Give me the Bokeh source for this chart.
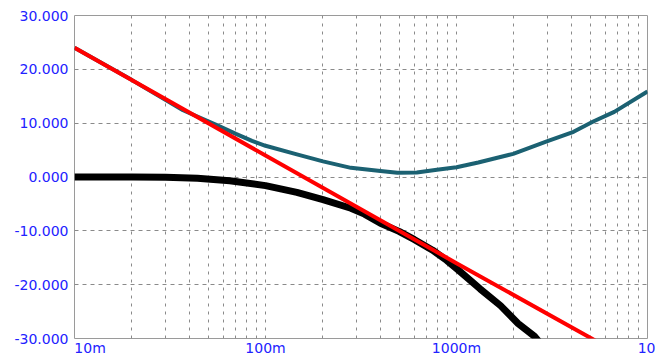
import numpy as np
from bokeh.plotting import figure
from bokeh.models import Range1d, FixedTicker, PrintfTickFormatter
from bokeh.embed import file_html
from bokeh.resources import INLINE

# ---- data ----
red_x = [0.01, 0.1, 1.0, 5.1, 10.0]
red_y = [24.0, 4.0, -16.0, -30.0, -36.0]

black_x = [0.01, 0.02, 0.03, 0.044, 0.065, 0.1, 0.146, 0.2, 0.28, 0.33, 0.4, 0.5, 0.6,
           0.75, 0.89, 1.0, 1.33, 1.7, 2.1, 2.56, 3.0]
black_y = [0.0, 0.0, -0.05, -0.25, -0.7, -1.6, -2.85, -4.2, -5.8, -6.9, -8.6, -10.1, -11.6,
           -13.6, -15.5, -17.0, -20.8, -23.9, -27.2, -29.6, -32.5]

teal_x = [0.01, 0.02, 0.029, 0.037, 0.056, 0.07, 0.085, 0.1, 0.146, 0.2, 0.28, 0.4, 0.49,
          0.62, 0.79, 1.0, 1.3, 1.98, 2.97, 4.1, 5.2, 6.7, 9.9, 10.0]
teal_y = [24.0, 18.0, 14.6, 12.4, 9.6, 8.0, 6.7, 5.8, 4.2, 2.9, 1.7, 1.1, 0.8,
          0.85, 1.35, 1.8, 2.7, 4.3, 6.6, 8.4, 10.3, 12.1, 15.8, 15.9]

y_ticks = [-30, -20, -10, 0, 10, 20, 30]
x_ticks = [0.01, 0.1, 1.0, 10.0]
x_tick_labels = ["10m", "100m", "1000m", "10"]

LABEL_FONT = "DejaVu Sans"
LABEL_COLOR = "#2222ff"
GRID_COLOR = "#8a8a8a"

p = figure(width=655, height=358, x_axis_type="log",
           x_range=Range1d(0.01, 10), y_range=Range1d(-30, 30),
           output_backend="svg", toolbar_location=None,
           min_border_left=74, min_border_right=8, min_border_top=15, min_border_bottom=19)
p.background_fill_color = "white"
p.border_fill_color = "white"
p.outline_line_color = "#9a9a9a"
p.outline_line_width = 1

# y axis
p.yaxis.ticker = FixedTicker(ticks=y_ticks)
p.yaxis.formatter = PrintfTickFormatter(format="%.3f")
p.yaxis.major_label_text_font = LABEL_FONT
p.yaxis.major_label_text_font_size = "14px"
p.yaxis.major_label_text_color = LABEL_COLOR
p.yaxis.major_tick_out = 0
p.yaxis.major_tick_in = 0
p.yaxis.minor_tick_out = 0
p.yaxis.minor_tick_in = 0
p.yaxis.major_label_standoff = 6
p.yaxis.axis_line_color = None

# x axis (log)
xaxis = p.xaxis[0]
xaxis.ticker = FixedTicker(ticks=x_ticks)
overrides = {}
for i, (t, lab) in enumerate(zip(x_ticks, x_tick_labels)):
    # first label sits to the right of its tick, as in the reference
    overrides[t] = ("\u00a0" * 7 + lab) if i == 0 else lab
xaxis.major_label_overrides = overrides
xaxis.major_label_text_font = LABEL_FONT
xaxis.major_label_text_font_size = "14px"
xaxis.major_label_text_color = LABEL_COLOR
xaxis.major_tick_out = 0
xaxis.major_tick_in = 0
xaxis.minor_tick_out = 0
xaxis.minor_tick_in = 0
xaxis.major_label_standoff = 1
xaxis.axis_line_color = None

# grids
decade_ticks = []
for d in [0.01, 0.1, 1.0]:
    for m in range(1, 10):
        decade_ticks.append(d * m)
decade_ticks.append(10.0)
p.xgrid.ticker = FixedTicker(ticks=decade_ticks)
p.xgrid.grid_line_color = GRID_COLOR
p.xgrid.grid_line_dash = "3 5"
p.xgrid.grid_line_width = 1
p.ygrid.ticker = FixedTicker(ticks=y_ticks)
p.ygrid.grid_line_color = GRID_COLOR
p.ygrid.grid_line_dash = "4 4"
p.ygrid.grid_line_width = 1

# curves
p.line(teal_x, teal_y, line_color="#1b6172", line_width=4, line_join="round")
p.line(black_x, black_y, line_color="black", line_width=7, line_join="round")
p.line(red_x, red_y, line_color="#ff0000", line_width=4, line_join="round")

open("out.html", "w").write(file_html(p, INLINE))
